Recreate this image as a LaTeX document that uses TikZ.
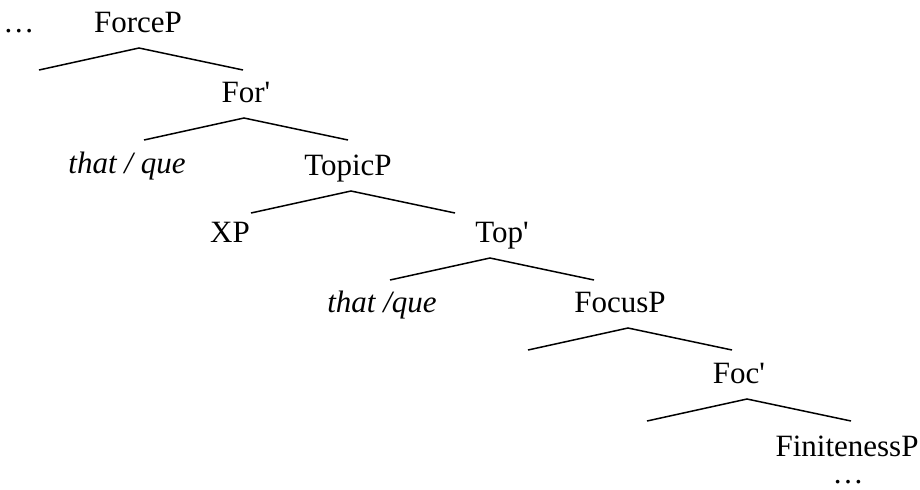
\documentclass[tikz,border=0pt]{standalone}
\usepackage{fontspec}
\setmainfont{Liberation Serif}
\begin{document}
\begin{tikzpicture}[x=0.5pt,y=-0.5pt]
\def\lft{100}
\def\rgt{104}
\def\drop{38}
\tikzset{
base/.style={inner sep=0pt,anchor=base,font=\fontsize{15.5}{18}\selectfont},
cat/.style={base},
word/.style={base,font=\fontsize{15.5}{18}\selectfont\itshape},
branch/.style={line width=0.75pt,draw}}
\useasboundingbox (0,0) rectangle (920,489);
\node[cat] at (19,32) (dotsL) {\ldots};
\node[cat] at (138,32) (ForceP) {ForceP};
\node[cat] at (246,102) (For) {For\textquotesingle};
\node[word] at (127,173) (that1) {that / que};
\node[cat] at (348,175) (TopicP) {TopicP};
\node[cat] at (230,242) (XP) {XP};
\node[cat] at (502,242) (Top) {Top\textquotesingle};
\node[word] at (382,312) (that2) {that /que};
\node[cat] at (620,312) (FocusP) {FocusP};
\node[cat] at (739,383) (Foc) {Foc\textquotesingle};
\node[cat] at (847,456) (FinP) {FinitenessP};
\node[cat] at (848,483) (dotsR) {\ldots};
\foreach \n/\dx in {ForceP/1,For/-2,TopicP/3,Top/-12,FocusP/8,Foc/8}
  \path[branch] ([shift={(\dx-\lft,\drop)}]\n.base) -- ([shift={(\dx,16)}]\n.base) -- ([shift={(\dx+\rgt,\drop)}]\n.base);
\end{tikzpicture}
\end{document}
